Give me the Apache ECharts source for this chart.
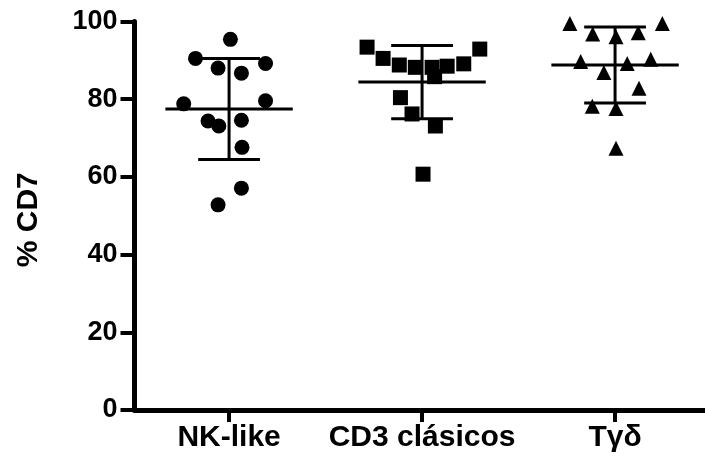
<!DOCTYPE html>
<html>
<head>
<meta charset="utf-8">
<title>% CD7</title>
<script src="https://cdn.jsdelivr.net/npm/echarts@6/dist/echarts.min.js"></script>
<style>
  html, body { margin: 0; padding: 0; background: #fff; }
  #chartdiv { width: 705px; height: 457px; }
</style>
</head>
<body>
<div id="chartdiv"></div>
<script>
const GROUPS = ["NK-like", "CD3 clásicos", "Tγδ"];
const GROUP_POS = [1, 2, 3];

// x = group position plus the horizontal spread of the dot, y = % CD7
const nkX = [1.007, 0.826, 1.189, 0.943, 1.064, 0.765, 1.189, 0.891, 0.947, 1.064, 1.067, 1.064, 0.943];
const nkY = [95.4, 90.5, 89.2, 88.0, 86.7, 78.8, 79.6, 74.4, 73.1, 74.6, 67.6, 57.1, 52.8];

const cd3X = [1.715, 1.798, 1.882, 1.965, 2.052, 2.130, 2.216, 2.299, 2.065, 1.888, 1.948, 2.069, 2.005];
const cd3Y = [93.4, 90.5, 88.8, 88.2, 88.2, 88.5, 89.1, 92.9, 85.8, 80.4, 76.2, 73.1, 60.7];

const tgdX = [2.766, 2.884, 3.005, 3.120, 3.245, 2.822, 2.942, 3.063, 3.185, 3.124, 2.882, 3.005, 3.005];
const tgdY = [99.5, 96.8, 96.1, 97.1, 99.5, 89.7, 86.9, 89.2, 90.3, 82.8, 78.2, 77.6, 67.4];

// mean and SD per group, as drawn
const MEANS = [77.5, 84.4, 88.8];
const SDS = [13.0, 9.4, 9.8];

const FONT = "'Liberation Sans', Arial, Helvetica, sans-serif";

function zip(xs, ys) {
  return xs.map((x, i) => [x, ys[i]]);
}

function renderMeanSd(params, api) {
  const g = api.value(0);
  const m = api.value(1);
  const sd = api.value(2);
  const style = { stroke: "#000", lineWidth: 3 };
  const seg = (x1, y1, x2, y2) => {
    const a = api.coord([x1, y1]);
    const b = api.coord([x2, y2]);
    return { type: "line", shape: { x1: a[0], y1: a[1], x2: b[0], y2: b[1] }, style: style };
  };
  return {
    type: "group",
    children: [
      seg(g - 0.33, m, g + 0.33, m),
      seg(g, m - sd, g, m + sd),
      seg(g - 0.16, m + sd, g + 0.16, m + sd),
      seg(g - 0.16, m - sd, g + 0.16, m - sd)
    ]
  };
}

const chart = echarts.init(document.getElementById("chartdiv"));

const dotStyle = { color: "#000", opacity: 1 };

const option = {
  animation: false,
  backgroundColor: "#fff",
  grid: { left: 134.5, right: 0, top: 21.5, bottom: 47 },
  xAxis: {
    type: "value",
    min: 0.51,
    max: 3.466,
    splitLine: { show: false },
    axisLine: { onZero: false, lineStyle: { color: "#000", width: 5 } },
    axisTick: { customValues: GROUP_POS, length: 12, lineStyle: { color: "#000", width: 4 } },
    axisLabel: {
      customValues: GROUP_POS,
      formatter: v => GROUPS[Math.round(v) - 1],
      margin: 13,
      color: "#000",
      fontFamily: FONT,
      fontWeight: "bold",
      fontSize: 30
    }
  },
  yAxis: {
    type: "value",
    min: 0,
    max: 100,
    interval: 20,
    name: "% CD7",
    nameLocation: "middle",
    nameGap: 91,
    nameTextStyle: {
      color: "#000",
      fontFamily: FONT,
      fontWeight: "bold",
      fontSize: 30,
      padding: [0, 8, 0, 0]
    },
    splitLine: { show: false },
    axisLine: { onZero: false, lineStyle: { color: "#000", width: 5 } },
    axisTick: { length: 14, lineStyle: { color: "#000", width: 4 } },
    axisLabel: {
      margin: 17,
      color: "#000",
      fontFamily: FONT,
      fontWeight: "bold",
      fontSize: 27
    }
  },
  series: [
    {
      name: "NK-like",
      type: "scatter",
      symbol: "circle",
      symbolSize: 15,
      itemStyle: dotStyle,
      data: zip(nkX, nkY)
    },
    {
      name: "CD3 clásicos",
      type: "scatter",
      symbol: "rect",
      symbolSize: 15,
      itemStyle: dotStyle,
      data: zip(cd3X, cd3Y)
    },
    {
      name: "Tγδ",
      type: "scatter",
      symbol: "triangle",
      symbolSize: 15,
      itemStyle: dotStyle,
      data: zip(tgdX, tgdY)
    },
    {
      name: "media ± DE",
      type: "custom",
      renderItem: renderMeanSd,
      encode: { x: 0, y: 1 },
      data: GROUP_POS.map((g, i) => [g, MEANS[i], SDS[i]]),
      z: 1
    }
  ]
};

chart.setOption(option);
</script>
</body>
</html>
